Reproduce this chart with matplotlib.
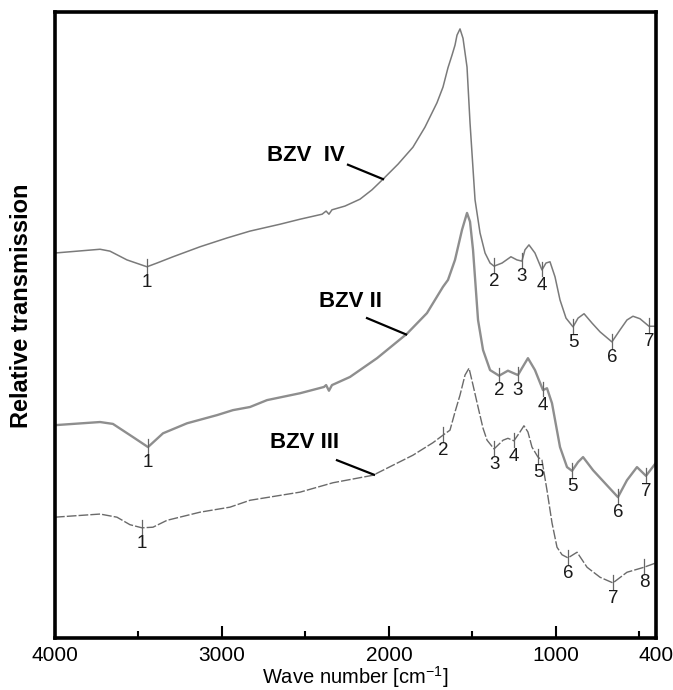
import numpy as np
import matplotlib
matplotlib.use("Agg")
import matplotlib.pyplot as plt

plt.rcParams['font.family'] = ['Liberation Sans', 'DejaVu Sans']
plt.rcParams['mathtext.fontset'] = 'custom'
plt.rcParams['mathtext.rm'] = 'Liberation Sans'
plt.rcParams['mathtext.it'] = 'Liberation Sans:italic'

# ---- data (wavenumber cm^-1, relative transmission a.u.) ----
wn_iv = [4000, 3730, 3671, 3569, 3449, 3389, 3293, 3131, 2970, 2832, 2652, 2532, 2400,
         2376, 2359, 2341, 2263, 2173, 2101, 2035, 1945, 1856, 1784, 1712, 1676, 1646,
         1622, 1604, 1592, 1574, 1556, 1532, 1514, 1484, 1454, 1424, 1394, 1370, 1322,
         1269, 1233, 1203, 1185, 1161, 1125, 1083, 1059, 1035, 1005, 975, 939, 897,
         867, 831, 783, 735, 664, 616, 574, 538, 496, 442, 400]
t_iv = [61.5, 62.1, 61.8, 60.4, 59.3, 59.9, 60.9, 62.5, 63.9, 65.0, 66.1, 66.9, 67.7,
        68.2, 67.7, 68.4, 69.0, 70.1, 71.6, 73.3, 75.7, 78.4, 81.6, 85.5, 88.0, 91.1,
        93.1, 94.7, 96.3, 97.3, 95.8, 91.2, 82.3, 70.0, 64.7, 61.5, 59.9, 59.4, 59.9,
        60.9, 60.4, 60.2, 62.0, 62.8, 61.5, 58.8, 59.9, 60.1, 57.7, 54.0, 51.1, 49.7,
        51.1, 51.8, 50.3, 48.9, 47.3, 49.2, 50.8, 51.4, 51.0, 49.8, 49.8]

wn_ii = [4000, 3730, 3653, 3533, 3443, 3353, 3209, 3030, 2934, 2832, 2730, 2532, 2389,
         2376, 2359, 2341, 2233, 2071, 1892, 1772, 1676, 1646, 1604, 1562, 1532, 1514,
         1496, 1466, 1436, 1394, 1340, 1287, 1227, 1203, 1167, 1125, 1077, 1053, 1023,
         975, 933, 903, 867, 837, 777, 694, 628, 574, 514, 460, 400]
t_ii = [34.0, 34.5, 34.2, 32.1, 30.5, 32.7, 34.3, 35.6, 36.4, 36.9, 38.0, 39.1, 40.1,
        40.4, 39.5, 40.4, 41.7, 44.7, 48.6, 51.9, 56.1, 57.2, 60.4, 65.2, 67.9, 66.5,
        62.0, 50.8, 46.0, 42.8, 41.9, 42.7, 42.0, 43.1, 44.7, 42.8, 39.6, 39.9, 37.5,
        30.5, 27.3, 26.7, 28.1, 28.9, 26.8, 24.4, 22.5, 25.2, 27.3, 25.9, 28.0]

wn_iii = [4000, 3730, 3629, 3551, 3479, 3413, 3329, 3131, 2952, 2832, 2532, 2335, 2095,
          1856, 1736, 1676, 1634, 1604, 1574, 1544, 1520, 1496, 1466, 1436, 1412, 1370,
          1316, 1287, 1251, 1215, 1191, 1167, 1143, 1107, 1083, 1053, 1023, 993, 963,
          927, 873, 813, 735, 658, 574, 472, 400]
t_iii = [19.3, 19.8, 19.3, 18.1, 17.6, 17.7, 18.8, 20.1, 20.9, 22.0, 23.3, 24.8, 26.0,
         29.2, 31.2, 32.4, 33.2, 36.1, 38.8, 42.0, 43.1, 40.4, 36.9, 33.5, 31.6, 30.2,
         31.6, 31.9, 31.5, 32.9, 33.9, 32.9, 30.5, 28.9, 28.4, 23.6, 18.4, 14.5, 13.3,
         12.8, 13.7, 11.3, 9.7, 8.8, 10.5, 11.3, 12.0]

# labelled band positions
bands_iv = [3449, 1370, 1203, 1083, 897, 664, 442]
bands_ii = [3443, 1340, 1227, 1077, 903, 628, 460]
bands_iii = [3479, 1676, 1370, 1251, 1107, 927, 658, 472]

xticks = [4000, 3000, 2000, 1000, 400]
xtick_labels = ['4000', '3000', '2000', '1000', '400']
minor_ticks = [3500, 2500, 1500, 500]

fig = plt.figure(figsize=(6.73, 6.90), dpi=100)
ax = fig.add_axes([55/673, 52/690, 601/673, 626/690])

series = [
    (wn_iv, t_iv, bands_iv, dict(color='#7a7a7a', lw=1.1, ls='-')),
    (wn_ii, t_ii, bands_ii, dict(color='#8e8e8e', lw=1.7, ls='-')),
    (wn_iii, t_iii, bands_iii, dict(color='#6a6a6a', lw=1.0, ls=(0, (7, 1.5)))),
]

for wn, t, bands, st in series:
    wn = np.asarray(wn, float)
    t = np.asarray(t, float)
    ax.plot(wn, t, color=st['color'], lw=st['lw'], ls=st['ls'], solid_joinstyle='round')
    order = np.argsort(wn)
    for i, b in enumerate(bands):
        yb = np.interp(b, wn[order], t[order])
        ax.plot([b, b], [yb - 1.0, yb + 1.3], color='#666666', lw=0.9)
        ax.annotate(str(i + 1), (b, yb), xytext=(0, -11), textcoords='offset points',
                    ha='center', va='center', fontsize=13.5, color='#1a1a1a')

# sample labels with leader lines
labels = [
    ('BZV  IV', (2497, 77.0), (2245, 75.6), 2035, wn_iv, t_iv),
    ('BZV II', (2233, 53.7), (2131, 51.1), 1897, wn_ii, t_ii),
    ('BZV III', (2503, 31.3), (2311, 28.4), 2089, wn_iii, t_iii),
]
for txt, tpos, lstart, lend_x, wn, t in labels:
    wn = np.asarray(wn, float)
    t = np.asarray(t, float)
    order = np.argsort(wn)
    yend = np.interp(lend_x, wn[order], t[order])
    ax.plot([lstart[0], lend_x], [lstart[1], yend], color='black', lw=1.6)
    ax.text(tpos[0], tpos[1], txt, ha='center', va='center', fontsize=16,
            fontweight='bold', color='black')

ax.set_xlim(4000, 400)
ax.set_ylim(0, 100)
ax.set_xticks(xticks)
ax.set_xticklabels(xtick_labels, fontsize=15)
ax.set_xticks(minor_ticks, minor=True)
ax.tick_params(axis='x', which='major', direction='in', length=9, width=1.5, pad=6)
ax.tick_params(axis='x', which='minor', direction='in', length=5, width=1.5)
ax.set_yticks([])
for s in ax.spines.values():
    s.set_linewidth(2.6)

ax.set_xlabel('Wave number [cm$^{-1}$]', fontsize=14.5, labelpad=-1)
ax.set_ylabel('Relative transmission', fontsize=17, fontweight='bold')
ax.yaxis.set_label_coords(-0.037, 0.53)

fig.savefig('out.png', dpi=100)
